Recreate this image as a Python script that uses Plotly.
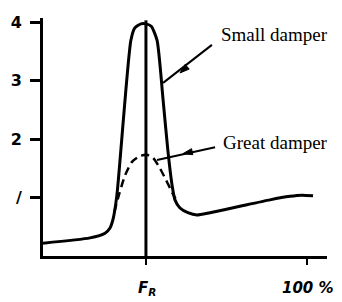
import plotly.graph_objects as go

# Data (x in % of full range, y in amplitude units)
small_x = [0, 17.8, 23.5, 25.4, 26.5, 28.0, 29.5, 31.4, 33.3, 34.8, 37.1, 39.0, 41.0, 43.2, 45.5, 47.3, 48.9, 50.0, 51.9, 54.9, 58.3, 63.3, 74.6, 86.0, 93.6, 98.0, 102.3]
small_y = [0.22, 0.31, 0.39, 0.48, 0.62, 1.04, 1.81, 2.84, 3.69, 3.90, 3.97, 3.97, 3.93, 3.69, 2.67, 1.81, 1.21, 0.96, 0.82, 0.74, 0.70, 0.74, 0.85, 0.96, 1.02, 1.04, 1.03]

great_x = [27.0, 28.8, 31.1, 33.7, 36.7, 39.4, 41.7, 44.3, 46.6, 48.9, 50.2]
great_y = [0.75, 1.05, 1.38, 1.61, 1.71, 1.73, 1.68, 1.50, 1.30, 1.09, 0.98]

# leader lines: label end -> curve, with arrowhead in the middle
small_lead_x = [64.0, 45.5]
small_lead_y = [3.61, 2.96]
small_head = (51.9, 3.13, 229)
great_lead_x = [65.2, 43.2]
great_lead_y = [1.86, 1.64]
great_head = (53.0, 1.75, 258)

fr_x = 39.0
ytick_vals = [1, 2, 3, 4]
ytick_text = ["/", "2", "3", "4"]
xtick_vals = [fr_x, 100]
xtick_text = ["<i><b>F<sub>R</sub></b></i>", "<i><b>100 %</b></i>"]

fig = go.Figure()
fig.add_trace(go.Scatter(x=small_x, y=small_y, mode="lines",
                         line=dict(color="black", width=3, shape="spline", smoothing=0.6),
                         hoverinfo="skip"))
fig.add_trace(go.Scatter(x=great_x, y=great_y, mode="lines",
                         line=dict(color="black", width=2.5, dash="8px,5px", shape="spline", smoothing=0.6),
                         hoverinfo="skip"))
fig.add_trace(go.Scatter(x=[fr_x, fr_x], y=[-0.07, 4.03], mode="lines", cliponaxis=False,
                         line=dict(color="black", width=3), hoverinfo="skip"))
for lx, ly, (hx, hy, ang) in [(small_lead_x, small_lead_y, small_head),
                              (great_lead_x, great_lead_y, great_head)]:
    fig.add_trace(go.Scatter(x=lx, y=ly, mode="lines",
                             line=dict(color="black", width=2), hoverinfo="skip"))
    fig.add_trace(go.Scatter(x=[hx], y=[hy], mode="markers",
                             marker=dict(symbol="arrow", size=10, angle=ang, opacity=1,
                                         color="black", line=dict(width=1, color="black")),
                             hoverinfo="skip"))

annotations = []
annotations.append(dict(x=66.5, y=3.78, xref="x", yref="y", text="Small damper", showarrow=False,
                        xanchor="left", font=dict(family="Liberation Serif", size=19, color="black")))
annotations.append(dict(x=67.5, y=1.94, xref="x", yref="y", text="Great damper", showarrow=False,
                        xanchor="left", font=dict(family="Liberation Serif", size=19, color="black")))
# x tick labels
for v, t, xs in zip(xtick_vals, xtick_text, [1, 1]):
    annotations.append(dict(x=v, y=-0.135, xref="x", yref="paper", yanchor="middle", xshift=xs,
                            text=t, showarrow=False,
                            font=dict(family="DejaVu Sans", size=15, color="black")))

fig.update_layout(
    width=334, height=294,
    margin=dict(l=35, r=15, t=10, b=46),
    paper_bgcolor="white", plot_bgcolor="white",
    showlegend=False,
    annotations=annotations,
    xaxis=dict(range=[0, 107.6], showgrid=False, zeroline=False, showline=True, automargin=False,
               linecolor="black", linewidth=3, ticks="outside", ticklen=6, tickwidth=2,
               tickcolor="black", tickvals=xtick_vals, showticklabels=False, fixedrange=True),
    yaxis=dict(range=[0, 4.07], showgrid=False, zeroline=False, showline=True, automargin=False,
               linecolor="black", linewidth=3, ticks="outside", ticklen=10, tickwidth=3,
               tickcolor="black", tickvals=ytick_vals, ticktext=ytick_text, ticklabelstandoff=5,
               tickfont=dict(family="DejaVu Sans", size=16, color="black", weight="bold"), fixedrange=True),
)

fig.write_html("out.html")
